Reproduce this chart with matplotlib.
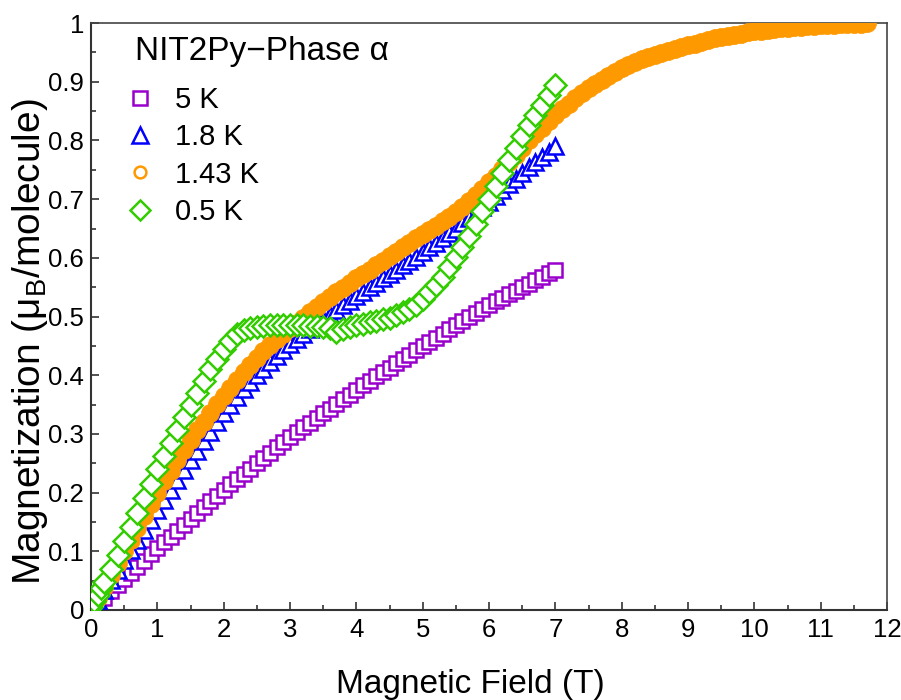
import numpy as np
import matplotlib
matplotlib.use("Agg")
import matplotlib.pyplot as plt
from matplotlib.lines import Line2D

plt.rcParams['font.family'] = ['Liberation Sans', 'DejaVu Sans']
plt.rcParams['mathtext.fontset'] = 'custom'
plt.rcParams['mathtext.rm'] = 'Liberation Sans'
plt.rcParams['mathtext.it'] = 'Liberation Sans:italic'

# ---------------- data ----------------
labels = ["5 K", "1.8 K", "1.43 K", "0.5 K"]
legend_title = "NIT2Py\u2212Phase \u03b1"

field_5K = [round(0.1 * i, 1) for i in range(1, 71)]
mag_5K = [0.011, 0.021, 0.032, 0.042, 0.053, 0.063, 0.074, 0.084, 0.095, 0.105,
          0.115, 0.125, 0.135, 0.145, 0.155, 0.165, 0.175, 0.185, 0.195, 0.205,
          0.214, 0.223, 0.232, 0.241, 0.250, 0.259, 0.268, 0.277, 0.286, 0.295,
          0.303, 0.311, 0.319, 0.327, 0.335, 0.343, 0.351, 0.359, 0.367, 0.375,
          0.383, 0.390, 0.398, 0.405, 0.413, 0.420, 0.428, 0.435, 0.443, 0.450,
          0.457, 0.464, 0.471, 0.478, 0.485, 0.492, 0.499, 0.506, 0.513, 0.520,
          0.526, 0.532, 0.538, 0.544, 0.550, 0.556, 0.562, 0.568, 0.574, 0.580]

field_1p8K = [round(0.1 * i, 1) for i in range(1, 71)]
mag_1p8K = [0.017, 0.034, 0.051, 0.068, 0.085, 0.102, 0.119, 0.136, 0.153, 0.170,
            0.187, 0.204, 0.221, 0.238, 0.255, 0.271, 0.288, 0.304, 0.320, 0.335,
            0.349, 0.363, 0.376, 0.388, 0.400, 0.411, 0.422, 0.433, 0.443, 0.453,
            0.462, 0.470, 0.479, 0.487, 0.495, 0.503, 0.511, 0.519, 0.527, 0.535,
            0.542, 0.550, 0.557, 0.565, 0.572, 0.580, 0.587, 0.595, 0.602, 0.610,
            0.618, 0.626, 0.634, 0.642, 0.650, 0.659, 0.668, 0.677, 0.686, 0.695,
            0.705, 0.715, 0.725, 0.735, 0.745, 0.754, 0.763, 0.772, 0.781, 0.790]

field_1p43K = [round(0.1 * i, 1) for i in range(0, 118)]
mag_1p43K = [0.000, 0.020, 0.040, 0.060, 0.080, 0.100, 0.120, 0.140, 0.160, 0.180,
             0.200, 0.219, 0.237, 0.255, 0.273, 0.290, 0.306, 0.321, 0.336, 0.351,
             0.365, 0.379, 0.392, 0.405, 0.418, 0.430, 0.441, 0.451, 0.461, 0.471,
             0.480, 0.489, 0.498, 0.507, 0.516, 0.525, 0.533, 0.541, 0.549, 0.557,
             0.565, 0.573, 0.580, 0.588, 0.595, 0.603, 0.610, 0.618, 0.625, 0.633,
             0.640, 0.647, 0.655, 0.662, 0.670, 0.678, 0.687, 0.697, 0.707, 0.718,
             0.729, 0.740, 0.752, 0.764, 0.776, 0.788, 0.800, 0.811, 0.822, 0.833,
             0.843, 0.853, 0.863, 0.872, 0.881, 0.889, 0.896, 0.903, 0.910, 0.917,
             0.923, 0.928, 0.933, 0.938, 0.942, 0.946, 0.949, 0.953, 0.956, 0.959,
             0.962, 0.965, 0.968, 0.971, 0.974, 0.976, 0.978, 0.980, 0.982, 0.984,
             0.986, 0.987, 0.988, 0.990, 0.991, 0.992, 0.993, 0.994, 0.995, 0.995,
             0.996, 0.997, 0.997, 0.998, 0.998, 0.999, 0.999, 1.000]

field_0p5K = [0.0, 0.05, 0.1, 0.15, 0.2, 0.3, 0.4, 0.5, 0.6, 0.7, 0.8, 0.9,
              1.0, 1.1, 1.2, 1.3, 1.4, 1.5, 1.6, 1.7, 1.8, 1.9,
              2.0, 2.1, 2.2, 2.3, 2.4, 2.5, 2.6, 2.7, 2.8, 2.9,
              3.0, 3.1, 3.2, 3.3, 3.4, 3.5, 3.6, 3.7, 3.8, 3.9,
              4.0, 4.1, 4.2, 4.3, 4.4, 4.5, 4.6, 4.7, 4.8, 4.9,
              5.0, 5.1, 5.2, 5.3, 5.4, 5.5, 5.6, 5.7, 5.8, 5.9,
              6.0, 6.1, 6.2, 6.3, 6.4, 6.5, 6.6, 6.7, 6.8, 6.9, 7.0]
mag_0p5K = [0.005, 0.015, 0.025, 0.037, 0.048, 0.070, 0.093, 0.117, 0.141, 0.165, 0.190, 0.215,
            0.240, 0.262, 0.284, 0.306, 0.328, 0.350, 0.370, 0.390, 0.410, 0.428,
            0.445, 0.459, 0.470, 0.477, 0.481, 0.483, 0.484, 0.485, 0.485, 0.485,
            0.485, 0.485, 0.485, 0.484, 0.484, 0.483, 0.481, 0.474, 0.479, 0.483,
            0.486, 0.488, 0.490, 0.492, 0.495, 0.498, 0.502, 0.507, 0.513, 0.520,
            0.530, 0.541, 0.554, 0.568, 0.584, 0.601, 0.619, 0.638, 0.658, 0.679,
            0.700, 0.722, 0.744, 0.766, 0.787, 0.807, 0.826, 0.844, 0.861, 0.878, 0.895]

c_purple = '#9900CC'
c_blue = '#0000FF'
c_orange = '#FF9900'
c_green = '#33CC00'

# ---------------- figure ----------------
fig = plt.figure(figsize=(9.01, 7.00), dpi=100)
ax = fig.add_axes([0.101, 0.1286, 0.8835, 0.8384])

ax.plot(field_5K, mag_5K, ls='none', marker='s', ms=10.5, mew=1.8,
        mec=c_purple, mfc='white', zorder=2)
ax.plot(field_1p8K, mag_1p8K, ls='none', marker='^', ms=11.5, mew=1.8,
        mec=c_blue, mfc='white', zorder=3)
ax.plot(field_1p43K, mag_1p43K, ls='none', marker='o', ms=13, mew=0.5,
        mec=c_orange, mfc=c_orange, zorder=4)
ax.plot(field_0p5K, mag_0p5K, ls='none', marker='D', ms=11.5, mew=1.8,
        mec=c_green, mfc='white', zorder=5)

ax.set_xlim(0, 12)
ax.set_ylim(0, 1)
ax.set_xticks(np.arange(0, 13, 1))
ax.set_xticks(np.arange(0.5, 12, 1), minor=True)
ax.set_yticks(np.arange(0, 1.01, 0.1))
ax.set_yticks(np.arange(0.05, 1.0, 0.1), minor=True)
ax.set_xticklabels([str(v) for v in range(0, 13)])
ax.set_yticklabels(['0', '0.1', '0.2', '0.3', '0.4', '0.5', '0.6', '0.7', '0.8', '0.9', '1'])

ax.tick_params(which='both', direction='in', top=False, right=False, labelsize=18.5,
               color='#333333', width=1.2)
ax.tick_params(which='major', length=6)
ax.tick_params(which='minor', length=3.5)
ax.tick_params(axis='x', pad=6)
ax.tick_params(axis='y', pad=5)
for s in ['left', 'bottom']:
    ax.spines[s].set_linewidth(1.5)
    ax.spines[s].set_color('#333333')
for s in ['top', 'right']:
    ax.spines[s].set_linewidth(1.2)
    ax.spines[s].set_color('#444444')

ax.set_xlabel('Magnetic Field (T)', fontsize=24)
ax.xaxis.set_label_coords(0.476, -0.100)
ax.set_ylabel('Magnetization (\u03bc$_\\mathrm{B}$/molecule)', fontsize=28)
ax.yaxis.set_label_coords(-0.052, 0.457)

ax.text(0.0553, 0.937, legend_title, transform=ax.transAxes, fontsize=24,
        ha='left', va='baseline')

handles = [
    Line2D([], [], ls='none', marker='s', ms=10, mew=1.8, mec=c_purple, mfc='white'),
    Line2D([], [], ls='none', marker='^', ms=11, mew=1.8, mec=c_blue, mfc='white'),
    Line2D([], [], ls='none', marker='o', ms=8.5, mew=1.8, mec=c_orange, mfc='white'),
    Line2D([], [], ls='none', marker='D', ms=10.5, mew=1.8, mec=c_green, mfc='white'),
]
leg = ax.legend(handles, labels, loc='upper left',
                bbox_to_anchor=(0.0394, 0.908), frameon=False, fontsize=21,
                handlelength=0.6, handletextpad=0.9, labelspacing=0.32,
                borderaxespad=0.0, borderpad=0.3)

fig.savefig('out.png', dpi=100)
